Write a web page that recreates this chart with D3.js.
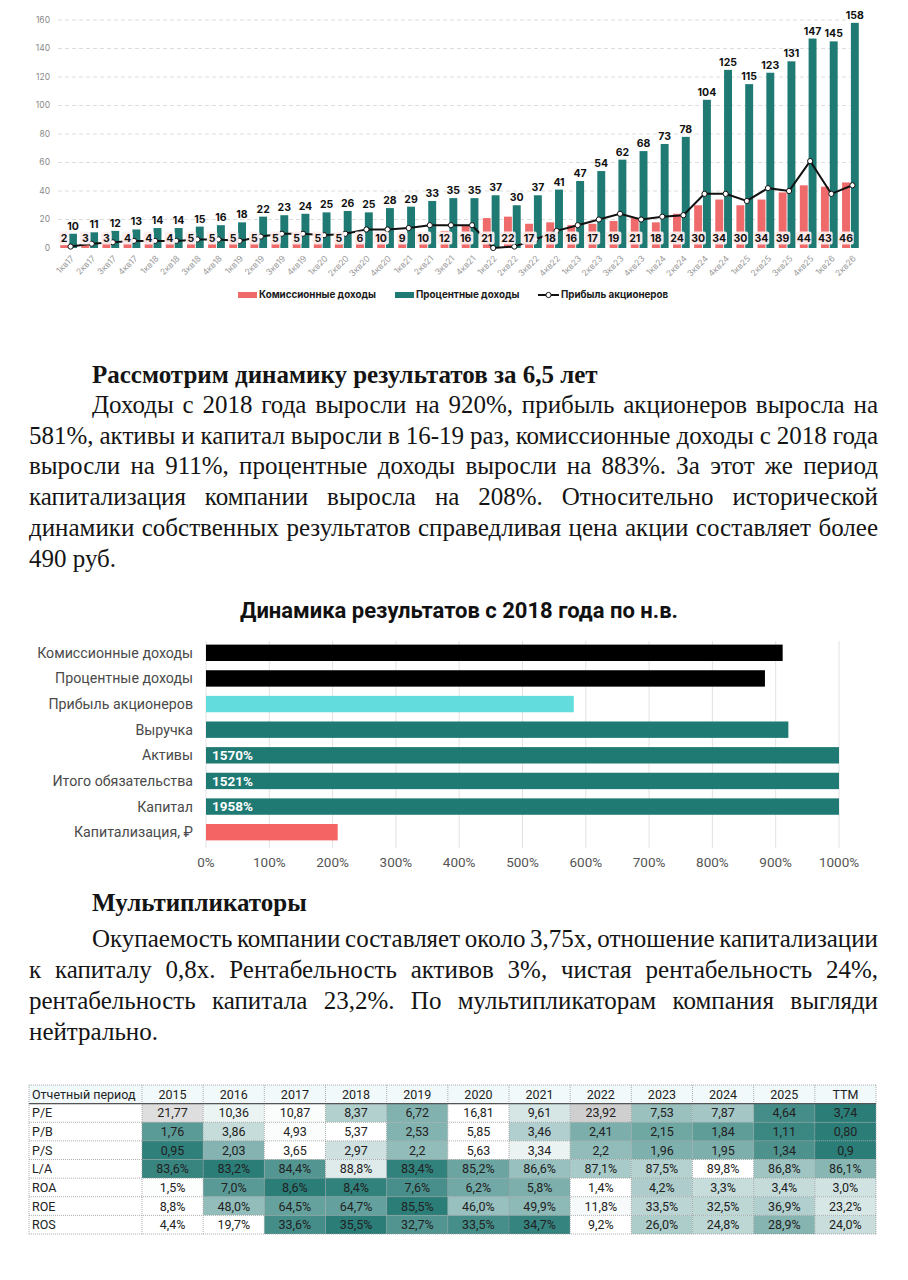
<!DOCTYPE html>
<html><head><meta charset="utf-8">
<script src="https://cdn.jsdelivr.net/npm/d3@7"></script>
<style>
html,body{margin:0;padding:0;background:#fff;}
svg{display:block;}
</style></head>
<body>
<svg id="page" width="908" height="1280"></svg>
<script>
// ---------- DATA ----------
const quarters = ["1кв17","2кв17","3кв17","4кв17","1кв18","2кв18","3кв18","4кв18","1кв19","2кв19","3кв19","4кв19","1кв20","2кв20","3кв20","4кв20","1кв21","2кв21","3кв21","4кв21","1кв22","2кв22","3кв22","4кв22","1кв23","2кв23","3кв23","4кв23","1кв24","2кв24","3кв24","4кв24","1кв25","2кв25","3кв25","4кв25","1кв26","2кв26"];
const commissionIncome = [2,3,3,4,4,4,5,5,5,5,5,5,5,5,6,10,9,10,12,16,21,22,17,18,16,17,19,21,18,24,30,34,30,34,39,44,43,46];
const interestIncome = [10,11,12,13,14,14,15,16,18,22,23,24,25,26,25,28,29,33,35,35,37,30,37,41,47,54,62,68,73,78,104,125,115,123,131,147,145,158];
const shareholderProfit = [1,3,4,5,5,5,6,6,5,8,10,10,9,10,13,13,14,16,16,16,0,1,6,12,16,20,24,20,22,23,38,38,33,42,40,61,38,44];
const yTicks = [0,20,40,60,80,100,120,140,160];
const legendLabels = ["Комиссионные доходы","Процентные доходы","Прибыль акционеров"];

const growthCats = ["Комиссионные доходы","Процентные доходы","Прибыль акционеров","Выручка","Активы","Итого обязательства","Капитал","Капитализация, ₽"];
const growthVals = [911, 883, 581, 920, 1570, 1521, 1958, 208];
const growthTicks = [0,100,200,300,400,500,600,700,800,900,1000];
const growthTitle = "Динамика результатов с 2018 года по н.в.";

const tableHeader = ["Отчетный период","2015","2016","2017","2018","2019","2020","2021","2022","2023","2024","2025","TTM"];
const rowNames = ["P/E","P/B","P/S","L/A","ROA","ROE","ROS"];
const pe  = [21.77,10.36,10.87,8.37,6.72,16.81,9.61,23.92,7.53,7.87,4.64,3.74];
const pb  = [1.76,3.86,4.93,5.37,2.53,5.85,3.46,2.41,2.15,1.84,1.11,0.80];
const ps  = [0.95,2.03,3.65,2.97,2.2,5.63,3.34,2.2,1.96,1.95,1.34,0.9];
const la  = [83.6,83.2,84.4,88.8,83.4,85.2,86.6,87.1,87.5,89.8,86.8,86.1];
const roa = [1.5,7.0,8.6,8.4,7.6,6.2,5.8,1.4,4.2,3.3,3.4,3.0];
const roe = [8.8,48.0,64.5,64.7,85.5,46.0,49.9,11.8,33.5,32.5,36.9,23.2];
const ros = [4.4,19.7,33.6,35.5,32.7,33.5,34.7,9.2,26.0,24.8,28.9,24.0];

const heading1 = "Рассмотрим динамику результатов за 6,5 лет";
const para1 = ["Доходы с 2018 года выросли на 920%, прибыль акционеров выросла на",
"581%, активы и капитал выросли в 16-19 раз, комиссионные доходы с 2018 года",
"выросли на 911%, процентные доходы выросли на 883%. За этот же период",
"капитализация компании выросла на 208%. Относительно исторической",
"динамики собственных результатов справедливая цена акции составляет более",
"490 руб."];
const heading2 = "Мультипликаторы";
const para2 = ["Окупаемость компании составляет около 3,75х, отношение капитализации",
"к капиталу 0,8х. Рентабельность активов 3%, чистая рентабельность 24%,",
"рентабельность капитала 23,2%. По мультипликаторам компания выгляди",
"нейтрально."];

// ---------- STYLE ----------
const PINK = "#ef6b6b", TEAL = "#1e7a73", CYAN = "#62dcdc", SALMON = "#f46464";
const SANS = "Inter, 'Noto Sans', sans-serif";
const SERIF = "'Liberation Serif', 'Times New Roman', serif";
const svg = d3.select("#page");
svg.append("rect").attr("width",908).attr("height",1280).attr("fill","#fff");

// ---------- TOP CHART ----------
const topG = svg.append("g");
const x = d3.scaleBand().domain(quarters).range([58, 861]).padding(0);
const xs = d3.scaleBand().domain(["c","i"]).range([0, x.bandwidth()]).paddingInner(0.1).paddingOuter(0.25);
const y = d3.scaleLinear().domain([0,160]).range([248, 20]);

topG.append("g").selectAll("line").data(yTicks.filter(d=>d>0)).join("line")
  .attr("x1",58).attr("x2",850).attr("y1",d=>y(d)).attr("y2",d=>y(d))
  .attr("stroke","#d4d4d4").attr("stroke-width",0.8).attr("stroke-dasharray","4,3");
topG.append("g").selectAll("text").data(yTicks).join("text")
  .attr("x",50).attr("y",d=>y(d)).attr("dy","0.35em").attr("text-anchor","end")
  .attr("font-family",SANS).attr("font-size",8.5).attr("fill","#8a8a8a").text(d=>d);

const qi = quarters.map((q,i)=>i);
topG.append("g").selectAll("rect").data(qi).join("rect")
  .attr("x",i=>x(quarters[i])+xs("c")).attr("width",xs.bandwidth())
  .attr("y",i=>y(commissionIncome[i])).attr("height",i=>y(0)-y(commissionIncome[i]))
  .attr("fill",PINK);
topG.append("g").selectAll("rect").data(qi).join("rect")
  .attr("x",i=>x(quarters[i])+xs("i")).attr("width",xs.bandwidth())
  .attr("y",i=>y(interestIncome[i])).attr("height",i=>y(0)-y(interestIncome[i]))
  .attr("fill",TEAL);
topG.append("g").selectAll("text").data(qi).join("text")
  .attr("x",i=>x(quarters[i])+xs("i")+xs.bandwidth()/2).attr("y",i=>y(interestIncome[i])-4)
  .attr("text-anchor","middle").attr("font-family",SANS).attr("font-weight",700)
  .attr("font-size",10.5).attr("fill","#111").text(i=>interestIncome[i]);

const cx = i => x(quarters[i]) + x.bandwidth()/2 + 2;
const line = d3.line().x(i=>cx(i)).y(i=>y(shareholderProfit[i]));
topG.append("path").datum(qi).attr("d",line).attr("fill","none").attr("stroke","#111").attr("stroke-width",2);
topG.append("g").selectAll("circle").data(qi).join("circle")
  .attr("cx",cx).attr("cy",i=>y(shareholderProfit[i])).attr("r",2.6)
  .attr("fill","#fff").attr("stroke","#111").attr("stroke-width",1);

// commission value boxes
const boxG = topG.append("g");
qi.forEach(i=>{
  const s = String(commissionIncome[i]);
  const w = s.length>1 ? 15.5 : 10.5;
  const bx = x(quarters[i])+xs("c")+xs.bandwidth()/2;
  boxG.append("rect").attr("x",bx-w/2).attr("y",231.5).attr("width",w).attr("height",13)
    .attr("rx",2).attr("fill","#fdeeee").attr("fill-opacity",0.95);
  boxG.append("text").attr("x",bx).attr("y",238).attr("dy","0.36em").attr("text-anchor","middle")
    .attr("font-family",SANS).attr("font-weight",700).attr("font-size",10.5).attr("fill","#111").text(s);
});

topG.append("g").selectAll("text").data(qi).join("text")
  .attr("transform",i=>`translate(${cx(i)+2},257) rotate(-45)`)
  .attr("text-anchor","end").attr("dy","0.35em")
  .attr("font-family",SANS).attr("font-size",8.5).attr("fill","#9a9a9a").text(i=>quarters[i]);

// legend
const lg = topG.append("g").attr("font-family",SANS).attr("font-weight",700).attr("font-size",9.8).attr("fill","#1a1a1a");
lg.append("rect").attr("x",238).attr("y",292).attr("width",19).attr("height",6).attr("fill",PINK);
lg.append("text").attr("x",259).attr("y",295).attr("dy","0.35em").text(legendLabels[0]);
lg.append("rect").attr("x",395).attr("y",292).attr("width",19).attr("height",6).attr("fill",TEAL);
lg.append("text").attr("x",416).attr("y",295).attr("dy","0.35em").text(legendLabels[1]);
lg.append("line").attr("x1",538).attr("x2",559).attr("y1",295).attr("y2",295).attr("stroke","#111").attr("stroke-width",2);
lg.append("circle").attr("cx",548.5).attr("cy",295).attr("r",2.6).attr("fill","#fff").attr("stroke","#111");
lg.append("text").attr("x",561).attr("y",295).attr("dy","0.35em").text(legendLabels[2]);

// ---------- TEXT ----------
function textLine(str, x0, x1, yb, justify, bold){
  const g = svg.append("g").attr("transform",`translate(0,${yb})`)
    .attr("font-family",SERIF).attr("font-size",25).attr("fill","#141414")
    .attr("font-weight", bold?700:400);
  const words = str.split(" ");
  const nodes = words.map(w=>g.append("text").attr("y",0).text(w));
  const widths = nodes.map(n=>n.node().getComputedTextLength());
  const sum = d3.sum(widths);
  const gap = (justify && words.length>1) ? (x1-x0-sum)/(words.length-1) : 6.25;
  let cur = x0;
  nodes.forEach((n,k)=>{ n.attr("x",cur); cur += widths[k]+gap; });
}
const L = 29, R = 878, IND = 92;
textLine(heading1, IND, R, 383, false, true);
const b1 = [413,444,474,505,536,567];
para1.forEach((s,k)=>textLine(s, k===0?IND:L, R, b1[k], k<para1.length-1, false));
textLine(heading2, IND, R, 911, false, true);
const b2 = [947,978,1009,1040];
para2.forEach((s,k)=>textLine(s, k===0?IND:L, R, b2[k], k<para2.length-1, false));

// ---------- GROWTH BAR CHART ----------
const gc = svg.append("g");
const COND = "'Roboto', 'Noto Sans', sans-serif";
const gx = d3.scaleLinear().domain([0,1000]).range([206,839]).clamp(true);
const gy = d3.scaleBand().domain(growthCats).range([640,845]).paddingInner(0.36).paddingOuter(0.18);
const gColors = ["#000","#000",CYAN,TEAL,TEAL,TEAL,TEAL,SALMON];
gc.append("text").attr("x",459).attr("y",618).attr("text-anchor","middle")
  .attr("font-family",COND).attr("font-weight",700).attr("font-size",22).attr("fill","#111").text(growthTitle);
gc.append("g").selectAll("line").data(growthTicks).join("line")
  .attr("x1",d=>gx(d)).attr("x2",d=>gx(d)).attr("y1",641).attr("y2",848)
  .attr("stroke","#e2e2e2").attr("stroke-width",1);
gc.append("g").selectAll("rect").data(growthCats).join("rect")
  .attr("x",gx(0)).attr("y",d=>gy(d)).attr("height",gy.bandwidth())
  .attr("width",(d,i)=>gx(growthVals[i])-gx(0)).attr("fill",(d,i)=>gColors[i]);
gc.append("g").selectAll("text").data(growthCats).join("text")
  .attr("x",193).attr("y",d=>gy(d)+gy.bandwidth()/2).attr("dy","0.35em").attr("text-anchor","end")
  .attr("font-family",COND).attr("font-size",14.2).attr("fill","#4a4a4a").text(d=>d);
gc.append("g").selectAll("text").data(growthCats.filter((d,i)=>growthVals[i]>1000)).join("text")
  .attr("x",gx(0)+6).attr("y",d=>gy(d)+gy.bandwidth()/2).attr("dy","0.36em")
  .attr("font-family",COND).attr("font-weight",700).attr("font-size",13.5).attr("fill","#fff")
  .text(d=>growthVals[growthCats.indexOf(d)]+"%");
gc.append("g").selectAll("text").data(growthTicks).join("text")
  .attr("x",d=>gx(d)).attr("y",862).attr("dy","0.35em").attr("text-anchor","middle")
  .attr("font-family",COND).attr("font-size",13.5).attr("fill","#555").text(d=>d+"%");

// ---------- TABLE ----------
const tg = svg.append("g").attr("font-family","'Roboto', sans-serif").attr("font-size",12.5).attr("fill","#222");
const rowsAll = ["head"].concat(rowNames);
const ty = d3.scaleBand().domain(rowsAll).range([1085,1234]);
const tx = d3.scaleBand().domain(tableHeader.slice(1)).range([142,876]);
const T = "#2b7d78", W = "#ffffff", G = "#cfcfcf";
const ext = a => d3.extent(a);
const rowSpec = [
  {v:pe,  f:d=>d.toFixed(2).replace(".",","), c:d3.scaleLinear().domain([ext(pe)[0],11,17,ext(pe)[1]]).range([T,W,W,G])},
  {v:pb,  f:d=>d.toFixed(2).replace(".",","), c:d3.scaleLinear().domain([ext(pb)[0],5,ext(pb)[1]]).range([T,W,W])},
  {v:ps,  f:d=>String(d).replace(".",","), c:d3.scaleLinear().domain([ext(ps)[0],3.6,ext(ps)[1]]).range([T,W,W])},
  {v:la,  f:d=>d.toFixed(1).replace(".",",")+"%", c:d3.scaleLinear().domain(ext(la)).range([T,W])},
  {v:roa, f:d=>d.toFixed(1).replace(".",",")+"%", c:d3.scaleLinear().domain(ext(roa)).range([W,T])},
  {v:roe, f:d=>d.toFixed(1).replace(".",",")+"%", c:d3.scaleLinear().domain(ext(roe)).range([W,T])},
  {v:ros, f:d=>d.toFixed(1).replace(".",",")+"%", c:d3.scaleLinear().domain([ext(ros)[0],20,ext(ros)[1]]).range([W,W,T])}
];
// header
tg.append("rect").attr("x",29).attr("y",ty("head")).attr("width",876-29).attr("height",ty.bandwidth()).attr("fill","#f1f9fa");
tg.append("text").attr("x",32).attr("y",ty("head")+ty.bandwidth()/2).attr("dy","0.36em").text(tableHeader[0]);
tableHeader.slice(1).forEach(h=>{
  tg.append("text").attr("x",tx(h)+tx.bandwidth()/2).attr("y",ty("head")+ty.bandwidth()/2).attr("dy","0.36em")
    .attr("text-anchor","middle").text(h);
});
rowNames.forEach((rn,r)=>{
  const sp = rowSpec[r];
  tg.append("rect").attr("x",29).attr("y",ty(rn)).attr("width",142-29).attr("height",ty.bandwidth()).attr("fill","#fff");
  tg.append("text").attr("x",32).attr("y",ty(rn)+ty.bandwidth()/2).attr("dy","0.36em").text(rn);
  tableHeader.slice(1).forEach((h,c)=>{
    tg.append("rect").attr("x",tx(h)).attr("y",ty(rn)).attr("width",tx.bandwidth()).attr("height",ty.bandwidth())
      .attr("fill",sp.c(sp.v[c]));
    tg.append("text").attr("x",tx(h)+tx.bandwidth()/2).attr("y",ty(rn)+ty.bandwidth()/2).attr("dy","0.36em")
      .attr("text-anchor","middle").text(sp.f(sp.v[c]));
  });
});
// grid lines
const gl = tg.append("g").attr("stroke","#9a9a9a").attr("stroke-width",0.8).attr("stroke-dasharray","1,1");
rowsAll.forEach(rn=>{ gl.append("line").attr("x1",29).attr("x2",876).attr("y1",ty(rn)).attr("y2",ty(rn)); });
gl.append("line").attr("x1",29).attr("x2",876).attr("y1",1234).attr("y2",1234);
gl.append("line").attr("x1",29).attr("x2",29).attr("y1",1085).attr("y2",1234);
gl.append("line").attr("x1",142).attr("x2",142).attr("y1",1085).attr("y2",1234);
tableHeader.slice(1).forEach(h=>{ gl.append("line").attr("x1",tx(h)+tx.bandwidth()).attr("x2",tx(h)+tx.bandwidth()).attr("y1",1085).attr("y2",1234); });
tg.append("line").attr("x1",29).attr("x2",876).attr("y1",ty(rowNames[0])).attr("y2",ty(rowNames[0])).attr("stroke","#555").attr("stroke-width",1.2);
</script>
</body></html>
